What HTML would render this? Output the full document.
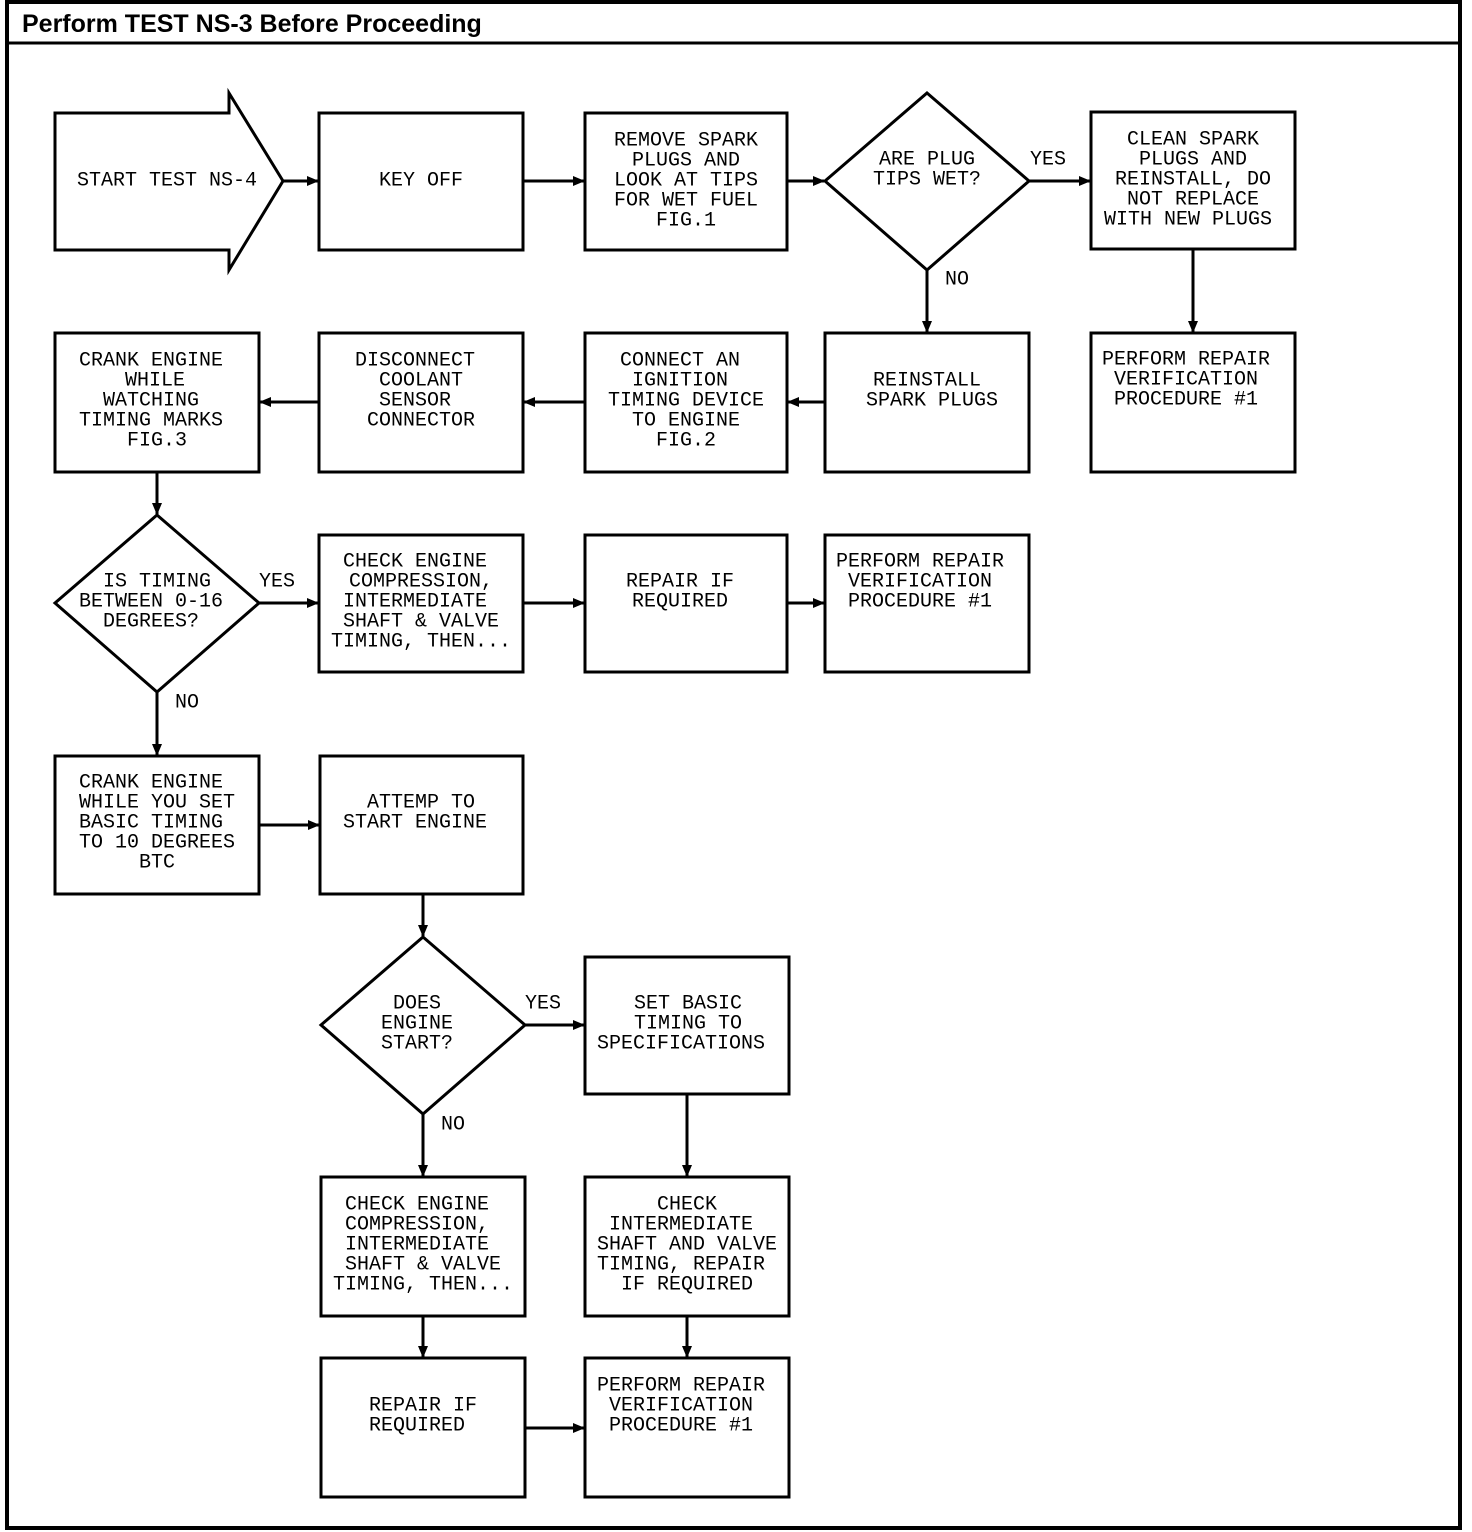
<!DOCTYPE html>
<html><head><meta charset="utf-8"><style>
html,body{margin:0;padding:0;background:#fff;}
svg{display:block;}
text{font-family:"Liberation Mono",monospace;font-size:20px;fill:#000;}
.t{font-family:"Liberation Sans",sans-serif;font-weight:bold;font-size:25px;}
</style></head><body>
<svg width="1472" height="1532" viewBox="0 0 1472 1532" xmlns="http://www.w3.org/2000/svg">
<defs><marker id="a" markerWidth="12" markerHeight="10" refX="11" refY="5" orient="auto" markerUnits="userSpaceOnUse"><path d="M0,0 L12,5 L0,10 Z" fill="#000"/></marker></defs>
<g fill="none" stroke="#000" stroke-width="3">
<rect x="7" y="2" width="1453" height="1526" stroke-width="4"/>
<line x1="7" y1="43" x2="1460" y2="43"/>
<!-- row1 -->
<path d="M55,113 L229,113 L229,93 L283,181 L229,270 L229,250 L55,250 Z"/>
<rect x="319" y="113" width="204" height="137"/>
<rect x="585" y="113" width="202" height="137"/>
<path d="M927,93 L1029,181 L927,270 L825,181 Z"/>
<rect x="1091" y="112" width="204" height="137"/>
<!-- row2 -->
<rect x="55" y="333" width="204" height="139"/>
<rect x="319" y="333" width="204" height="139"/>
<rect x="585" y="333" width="202" height="139"/>
<rect x="825" y="333" width="204" height="139"/>
<rect x="1091" y="333" width="204" height="139"/>
<!-- row3 -->
<path d="M157,515 L259,603 L157,692 L55,603 Z"/>
<rect x="319" y="535" width="204" height="137"/>
<rect x="585" y="535" width="202" height="137"/>
<rect x="825" y="535" width="204" height="137"/>
<!-- row4 -->
<rect x="55" y="756" width="204" height="138"/>
<rect x="320" y="756" width="203" height="138"/>
<path d="M423,937 L525,1025 L423,1114 L321,1025 Z"/>
<rect x="585" y="957" width="204" height="137"/>
<rect x="321" y="1177" width="204" height="139"/>
<rect x="585" y="1177" width="204" height="139"/>
<rect x="321" y="1358" width="204" height="139"/>
<rect x="585" y="1358" width="204" height="139"/>
</g>
<g fill="none" stroke="#000" stroke-width="3" marker-end="url(#a)">
<line x1="283" y1="181" x2="318" y2="181"/>
<line x1="523" y1="181" x2="584" y2="181"/>
<line x1="787" y1="181" x2="824" y2="181"/>
<line x1="1029" y1="181" x2="1090" y2="181"/>
<line x1="1193" y1="249" x2="1193" y2="332"/>
<line x1="927" y1="270" x2="927" y2="332"/>
<line x1="825" y1="402" x2="788" y2="402"/>
<line x1="585" y1="402" x2="524" y2="402"/>
<line x1="319" y1="402" x2="260" y2="402"/>
<line x1="157" y1="472" x2="157" y2="514"/>
<line x1="259" y1="603" x2="318" y2="603"/>
<line x1="523" y1="603" x2="584" y2="603"/>
<line x1="787" y1="603" x2="824" y2="603"/>
<line x1="157" y1="692" x2="157" y2="755"/>
<line x1="259" y1="825" x2="319" y2="825"/>
<line x1="423" y1="894" x2="423" y2="936"/>
<line x1="525" y1="1025" x2="584" y2="1025"/>
<line x1="423" y1="1114" x2="423" y2="1176"/>
<line x1="687" y1="1094" x2="687" y2="1176"/>
<line x1="423" y1="1316" x2="423" y2="1357"/>
<line x1="687" y1="1316" x2="687" y2="1357"/>
<line x1="525" y1="1428" x2="584" y2="1428"/>
</g>
<text class="t" x="22" y="32">Perform TEST NS-3 Before Proceeding</text>
<g text-anchor="middle" dominant-baseline="central">
<text x="167" y="181">START TEST NS-4</text>
<text x="421" y="181">KEY OFF</text>
<text x="686" y="141">REMOVE SPARK</text><text x="686" y="161">PLUGS AND</text><text x="686" y="181">LOOK AT TIPS</text><text x="686" y="201">FOR WET FUEL</text><text x="686" y="221">FIG.1</text>
<text x="927" y="160">ARE PLUG</text><text x="927" y="180">TIPS WET?</text>
<text x="1048" y="160">YES</text><text x="957" y="280">NO</text>
<text x="1193" y="140">CLEAN SPARK</text><text x="1193" y="160">PLUGS AND</text><text x="1193" y="180">REINSTALL, DO</text><text x="1193" y="200">NOT REPLACE</text><text x="1188" y="220">WITH NEW PLUGS</text>
<text x="151" y="361">CRANK ENGINE</text><text x="155" y="381">WHILE</text><text x="151" y="401">WATCHING</text><text x="151" y="421">TIMING MARKS</text><text x="157" y="441">FIG.3</text>
<text x="415" y="361">DISCONNECT</text><text x="421" y="381">COOLANT</text><text x="415" y="401">SENSOR</text><text x="421" y="421">CONNECTOR</text>
<text x="680" y="361">CONNECT AN</text><text x="680" y="381">IGNITION</text><text x="686" y="401">TIMING DEVICE</text><text x="686" y="421">TO ENGINE</text><text x="686" y="441">FIG.2</text>
<text x="927" y="381">REINSTALL</text><text x="932" y="401">SPARK PLUGS</text>
<text x="1186" y="360">PERFORM REPAIR</text><text x="1186" y="380">VERIFICATION</text><text x="1186" y="400">PROCEDURE #1</text>
<text x="157" y="582">IS TIMING</text><text x="151" y="602">BETWEEN 0-16</text><text x="151" y="622">DEGREES?</text>
<text x="277" y="582">YES</text><text x="187" y="703">NO</text>
<text x="415" y="562">CHECK ENGINE</text><text x="421" y="582">COMPRESSION,</text><text x="415" y="602">INTERMEDIATE</text><text x="421" y="622">SHAFT &amp; VALVE</text><text x="421" y="642">TIMING, THEN...</text>
<text x="680" y="582">REPAIR IF</text><text x="680" y="602">REQUIRED</text>
<text x="920" y="562">PERFORM REPAIR</text><text x="920" y="582">VERIFICATION</text><text x="920" y="602">PROCEDURE #1</text>
<text x="151" y="783">CRANK ENGINE</text><text x="157" y="803">WHILE YOU SET</text><text x="151" y="823">BASIC TIMING</text><text x="157" y="843">TO 10 DEGREES</text><text x="157" y="863">BTC</text>
<text x="421" y="803">ATTEMP TO</text><text x="415" y="823">START ENGINE</text>
<text x="417" y="1004">DOES</text><text x="417" y="1024">ENGINE</text><text x="417" y="1044">START?</text>
<text x="543" y="1004">YES</text><text x="453" y="1125">NO</text>
<text x="688" y="1004">SET BASIC</text><text x="688" y="1024">TIMING TO</text><text x="681" y="1044">SPECIFICATIONS</text>
<text x="417" y="1205">CHECK ENGINE</text><text x="417" y="1225">COMPRESSION,</text><text x="417" y="1245">INTERMEDIATE</text><text x="423" y="1265">SHAFT &amp; VALVE</text><text x="423" y="1285">TIMING, THEN...</text>
<text x="687" y="1205">CHECK</text><text x="681" y="1225">INTERMEDIATE</text><text x="687" y="1245">SHAFT AND VALVE</text><text x="681" y="1265">TIMING, REPAIR</text><text x="687" y="1285">IF REQUIRED</text>
<text x="423" y="1406">REPAIR IF</text><text x="417" y="1426">REQUIRED</text>
<text x="681" y="1386">PERFORM REPAIR</text><text x="681" y="1406">VERIFICATION</text><text x="681" y="1426">PROCEDURE #1</text>
</g>
</svg>
</body></html>
